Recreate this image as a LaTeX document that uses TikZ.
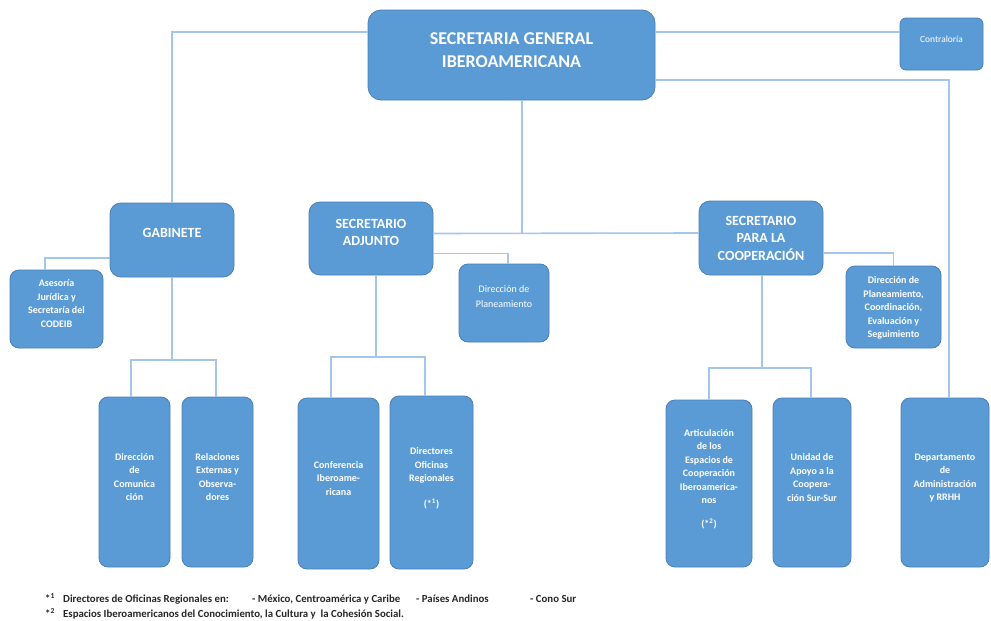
\documentclass[tikz,border=0pt]{standalone}
\usepackage{fontspec}
\setmainfont{Carlito}
\definecolor{boxblue}{HTML}{5B9BD5}
\definecolor{boxedge}{HTML}{4A7FB5}
\definecolor{linkblue}{HTML}{A4C6EA}
\begin{document}
\begin{tikzpicture}[x=1pt,y=-1pt,
  basebox/.style={draw=boxedge, line width=0.8pt, fill=boxblue, rounded corners=11pt, text=white, align=center, inner sep=2pt, shape=rectangle},
  headbox/.style={basebox, font=\fontsize{14}{17.5}\selectfont\bfseries},
  smallbox/.style={basebox, rounded corners=9pt, text depth=10.5pt, font=\fontsize{10}{13.5}\selectfont\bfseries},
  plainbox/.style={basebox, rounded corners=9pt, font=\fontsize{10}{15}\selectfont},
  linkline/.style={draw=linkblue, line width=1.6pt},
  fnote/.style={anchor=base west, font=\fontsize{10.8}{12}\selectfont\bfseries, text=black!85, inner sep=0pt}]
\useasboundingbox (0,0) rectangle (991,621);

% top
\node[headbox, font=\fontsize{18}{23}\selectfont\bfseries, text depth=10pt, rounded corners=13pt, minimum width=287pt, minimum height=90pt] (sg) at (511.5,55) {SECRETARIA GENERAL\\IBEROAMERICANA};
\node[plainbox, rounded corners=6pt, text depth=9pt, font=\fontsize{9.4}{11}\selectfont, minimum width=83pt, minimum height=52pt] (contr) at (941.5,44) {Contraloría};

% second level
\node[headbox, text depth=14pt, minimum width=124pt, minimum height=74pt] (gab) at (172,240) {GABINETE};
\node[headbox, text depth=12.5pt, minimum width=124pt, minimum height=73pt] (sa) at (371,238.5) {SECRETARIO\\ADJUNTO};
\node[headbox, minimum width=124pt, minimum height=74pt] (spc) at (761,238) {SECRETARIO\\PARA LA\\COOPERACIÓN};

\node[smallbox, minimum width=93pt, minimum height=78pt] (ase) at (56.5,309) {Asesoría\\Jurídica y\\Secretaría del\\CODEIB};
\node[plainbox, text depth=12pt, minimum width=90pt, minimum height=78pt] (dp) at (504,303) {Dirección de\\Planeamiento};
\node[smallbox, text depth=0pt, minimum width=95pt, minimum height=82pt] (dpc) at (893.5,307) {Dirección de\\Planeamiento,\\Coordinación,\\Evaluación y\\Seguimiento};

% bottom level
\node[smallbox, minimum width=71pt, minimum height=170pt] (dcom) at (134.5,482) {Dirección\\de\\Comunica\\ción};
\node[smallbox, minimum width=71pt, minimum height=170pt] (rel) at (217.5,482) {Relaciones\\Externas y\\Observa-\\dores};
\node[smallbox, minimum width=81pt, minimum height=171pt] (conf) at (338.5,483.5) {Conferencia\\Iberoame-\\ricana};
\node[smallbox, minimum width=83pt, minimum height=173pt] (dof) at (431.5,482.5) {Directores\\Oficinas\\Regionales\\[12pt](*\textsuperscript{1})};
\node[smallbox, minimum width=86pt, minimum height=167pt] (art) at (709,483.5) {Articulación\\de los\\Espacios de\\Cooperación\\Iberoamerica-\\nos\\[10pt](*\textsuperscript{2})};
\node[smallbox, minimum width=78pt, minimum height=169pt] (uni) at (812,482.5) {Unidad de\\Apoyo a la\\Coopera-\\ción Sur-Sur};
\node[smallbox, minimum width=88pt, minimum height=169pt] (dep) at (945,482.5) {Departamento\\de\\Administración\\y RRHH};

% junctions
\coordinate (jsg) at (522,233.5);
\coordinate (jg) at (172,360);
\coordinate (jsa) at (376,357);
\coordinate (jspc) at (762,368);

% connectors
\draw[linkline] ([yshift=23pt]sg.west) -| (gab.north);
\draw[linkline] ([yshift=23pt]sg.east) -- ([yshift=23pt]sg.east -| contr.west);
\draw[linkline] ([yshift=-25pt]sg.east) -| ([xshift=4pt]dep.north);
\draw[linkline] ([xshift=10.5pt]sg.south) -- (jsg);
\draw[linkline] ([yshift=5pt]sa.east) -- ([yshift=5pt]spc.west);
\draw[linkline] ([yshift=-18pt]gab.west) -| ([xshift=-11.5pt]ase.north);
\draw[linkline] ([yshift=-15pt]sa.east) -| ([xshift=4pt]dp.north);
\draw[linkline] ([yshift=-15pt]spc.east) -| (dpc.north);
\draw[linkline] (gab.south) -- (jg);
\draw[linkline] ([xshift=-3.5pt]dcom.north) |- (jg) -| ([xshift=-1.5pt]rel.north);
\draw[linkline] ([xshift=5pt]sa.south) -- (jsa);
\draw[linkline] ([xshift=-7.5pt]conf.north) |- (jsa) -| ([xshift=-6.5pt]dof.north);
\draw[linkline] ([xshift=1pt]spc.south) -- (jspc);
\draw[linkline] (art.north) |- (jspc) -| ([xshift=-1pt]uni.north);

% footnotes
\node[fnote] (f1m) at (45,602) {*\textsuperscript{1}};
\node[fnote] (f1a) at (63,602) {Directores de Oficinas Regionales en:};
\node[fnote] (f1b) at (252,602) {- México, Centroamérica y Caribe};
\node[fnote] (f1c) at (416,602) {- Países Andinos};
\node[fnote] (f1d) at (530,602) {- Cono Sur};
\node[fnote] (f2m) at (45,617) {*\textsuperscript{2}};
\node[fnote] (f2a) at (63,617) {Espacios Iberoamericanos del Conocimiento, la Cultura y\ \ la Cohesión Social.};
\end{tikzpicture}
\end{document}
